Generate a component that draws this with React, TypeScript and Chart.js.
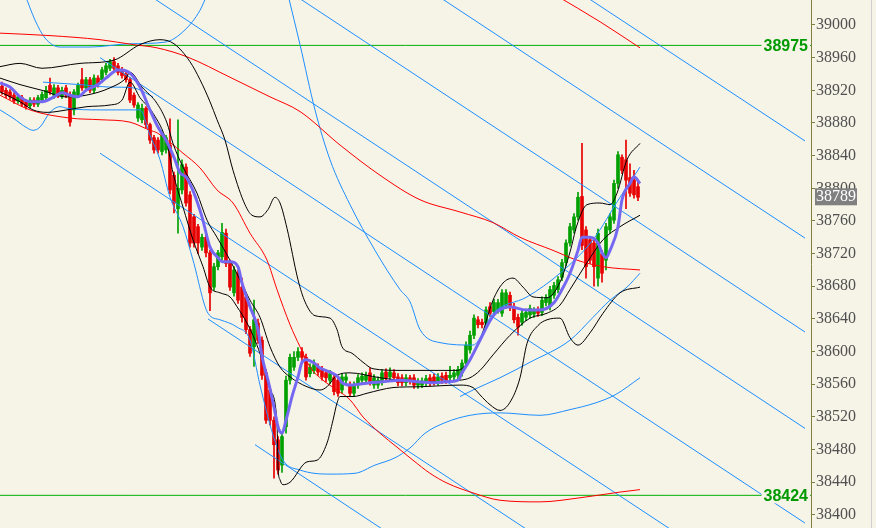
import { useEffect, useRef } from "react";
import { Chart, registerables } from "chart.js";
Chart.register(...registerables);

// ---- candles (bar index 0..159) ----
const OPEN = [38925,38920,38918,38914,38907,38911,38906,38901,38908,38903,38908,38911,38926,38914,38923,38913,38923,38914,38896,38914,38933,38923,38933,38920,38935,38933,38942,38947,38955,38950,38945,38940,38933,38914,38886,38884,38898,38878,38862,38859,38845,38847,38853,38816,38775,38798,38826,38792,38765,38753,38728,38740,38721,38679,38704,38716,38745,38708,38672,38696,38679,38667,38627,38606,38635,38614,38574,38553,38516,38492,38461,38508,38565,38581,38593,38600,38593,38573,38577,38581,38578,38574,38565,38568,38565,38553,38565,38559,38549,38559,38565,38565,38574,38559,38559,38563,38575,38569,38574,38569,38568,38562,38568,38568,38559,38559,38562,38568,38569,38563,38570,38571,38568,38569,38571,38574,38586,38602,38620,38639,38636,38635,38655,38649,38651,38647,38657,38669,38655,38642,38636,38642,38645,38646,38651,38648,38660,38655,38669,38676,38691,38709,38733,38749,38765,38790,38749,38737,38733,38690,38720,38712,38749,38761,38806,38838,38835,38813,38810,38802];
const HIGH = [38930,38923,38921,38917,38915,38914,38909,38911,38911,38914,38918,38925,38935,38927,38926,38924,38926,38918,38921,38929,38947,38936,38936,38939,38938,38948,38953,38958,38960,38953,38948,38943,38936,38917,38905,38903,38900,38880,38865,38862,38870,38865,38885,38820,38884,38835,38830,38796,38768,38756,38744,38744,38724,38708,38724,38757,38750,38712,38704,38700,38690,38672,38631,38663,38640,38618,38578,38556,38520,38496,38500,38570,38597,38600,38605,38605,38597,38585,38590,38585,38582,38577,38577,38572,38569,38573,38573,38563,38563,38572,38574,38575,38580,38572,38569,38578,38579,38580,38578,38573,38572,38572,38571,38572,38567,38568,38571,38572,38573,38573,38574,38575,38582,38578,38582,38590,38612,38625,38645,38643,38640,38655,38660,38664,38664,38676,38676,38673,38659,38646,38651,38652,38657,38654,38655,38667,38670,38680,38685,38692,38713,38737,38757,38769,38795,38855,38753,38741,38737,38750,38724,38757,38769,38810,38845,38841,38859,38830,38822,38810];
const LOW = [38915,38911,38909,38904,38904,38900,38897,38898,38900,38900,38905,38908,38915,38910,38911,38910,38911,38876,38890,38911,38920,38920,38917,38917,38924,38930,38939,38944,38944,38939,38935,38930,38905,38899,38882,38880,38874,38855,38843,38843,38841,38843,38793,38770,38745,38793,38778,38728,38728,38720,38724,38716,38650,38675,38700,38712,38704,38675,38668,38659,38636,38622,38594,38582,38610,38566,38512,38510,38445,38450,38452,38500,38560,38577,38589,38588,38565,38569,38573,38571,38565,38563,38561,38547,38545,38549,38561,38545,38545,38555,38561,38562,38559,38555,38555,38559,38564,38565,38564,38558,38558,38558,38560,38555,38555,38556,38558,38558,38559,38559,38561,38561,38564,38565,38567,38570,38582,38598,38616,38629,38629,38631,38643,38645,38647,38643,38653,38650,38635,38620,38632,38638,38641,38642,38643,38644,38656,38651,38665,38672,38687,38705,38729,38745,38761,38725,38690,38708,38680,38680,38685,38700,38745,38757,38800,38818,38775,38790,38788,38785];
const CLOSE = [38918,38914,38912,38907,38912,38903,38900,38908,38903,38911,38915,38920,38918,38923,38914,38920,38914,38881,38918,38926,38923,38933,38920,38935,38927,38945,38950,38955,38947,38942,38938,38933,38908,38902,38902,38898,38878,38859,38847,38847,38865,38862,38798,38782,38800,38829,38782,38733,38733,38733,38740,38721,38672,38704,38721,38746,38708,38679,38700,38663,38642,38627,38598,38639,38614,38571,38516,38516,38486,38455,38496,38565,38593,38593,38600,38593,38569,38581,38584,38575,38569,38568,38573,38551,38549,38569,38569,38549,38559,38568,38570,38571,38563,38568,38565,38574,38568,38575,38568,38562,38562,38568,38564,38559,38563,38564,38567,38562,38563,38569,38565,38565,38571,38574,38578,38586,38608,38620,38641,38633,38633,38651,38647,38660,38660,38672,38672,38655,38639,38630,38647,38648,38653,38650,38647,38663,38666,38676,38681,38688,38709,38733,38753,38765,38789,38730,38704,38712,38704,38745,38696,38753,38765,38806,38841,38822,38810,38794,38792,38789];

// ---- axis / levels ----
const Y_TICKS = [38400,38440,38480,38520,38560,38600,38640,38680,38720,38760,38800,38840,38880,38920,38960,39000];
const LEVEL_HIGH = 38975;
const LEVEL_LOW = 38424;
const LAST_PRICE = 38789;

// ---- indicator lines: [bar index, price] ----
const MA_FAST = [[-0.5,38929],[2,38924],[4.5,38912],[7,38906],[10,38906],[13,38912],[15,38917],[17,38914],[19,38912],[21,38920],[24,38927],[26,38935],[29,38945],[30,38945],[32,38941],[34.5,38924],[37,38896],[39,38875],[41,38859],[43,38838],[44.5,38819],[46,38814],[48,38794],[50,38765],[52,38728],[54,38715],[55,38710],[57,38710],[59,38704],[60,38684],[62,38655],[64,38627],[65,38594],[66.5,38565],[68,38532],[69,38508],[70,38500],[71,38516],[72.5,38545],[74,38569],[75,38587],[76,38590],[78,38586],[79.5,38580],[82,38575],[84,38569],[85,38562],[87,38559],[92,38562],[95,38563],[99.5,38565],[104,38563],[108,38562],[111,38563],[114,38565],[115,38574],[117,38590],[119.5,38614],[123,38645],[127,38655],[131,38651],[134.5,38651],[138,38660],[140,38676],[142,38696],[144,38724],[145,38740],[147,38740],[149,38733],[150,38721],[151,38715],[152,38724],[154,38753],[155,38786],[157,38806],[158,38814],[159.5,38806]];
const BB_UPPER = [[-0.5,38949],[4.5,38953],[10,38947],[19.5,38953],[28,38957],[34.5,38976],[39.5,38982],[43,38977],[47,38955],[49.5,38933],[52,38906],[53.75,38884],[55.75,38859],[57.75,38822],[60.75,38780],[62.5,38767],[64.5,38765],[66.5,38774],[68.25,38789],[69.5,38782],[71.25,38751],[74,38688],[75.75,38661],[78.25,38644],[82,38641],[83.75,38627],[85,38606],[87.5,38598],[90.25,38587],[92.75,38579],[99.5,38577],[113.75,38577],[116.5,38587],[119.5,38614],[122.75,38663],[125.25,38684],[127.75,38690],[130.25,38679],[132.75,38667],[136.25,38666],[139.5,38685],[142,38722],[143.75,38755],[146.25,38780],[149.5,38782],[152,38780],[153.75,38794],[156.25,38835],[159.5,38855]];
const BB_MIDDLE = [[-0.5,38935],[4.5,38927],[10,38920],[16,38912],[21,38914],[27,38923],[31,38935],[32,38942],[35,38924],[38.75,38904],[41.25,38880],[42.75,38855],[45.25,38826],[48.75,38794],[51.25,38761],[53.75,38740],[57,38712],[59.5,38688],[62,38663],[64.5,38642],[67,38606],[69.5,38581],[72,38569],[76.25,38557],[79.5,38553],[81.25,38557],[83.75,38571],[87,38574],[94.5,38568],[104.5,38563],[114.5,38565],[117,38568],[119.5,38577],[122.75,38596],[127,38620],[132,38641],[136.25,38647],[139.5,38657],[142,38676],[146.25,38709],[150.25,38737],[154.5,38753],[159.5,38767]];
const BB_LOWER = [[-0.5,38918],[4.5,38906],[7.75,38896],[11.25,38893],[16.25,38896],[21.25,38900],[27,38902],[30,38908],[32,38930],[34.5,38911],[37.75,38892],[41.25,38855],[42.75,38819],[45.25,38777],[47.75,38737],[50.25,38704],[52,38679],[54.5,38672],[57,38667],[58.75,38655],[61.25,38635],[63.25,38614],[65,38590],[67,38553],[68.75,38513],[69,38459],[69.5,38443],[70.25,38437],[72,38440],[76.25,38465],[78.75,38467],[81.25,38488],[82.75,38516],[83.75,38537],[84.5,38545],[87.75,38545],[91.25,38549],[94.5,38553],[97.75,38556],[104.5,38557],[114.5,38559],[117.75,38556],[119.5,38547],[122,38535],[124.5,38528],[127,38538],[129.5,38568],[131.25,38610],[134,38632],[136.25,38639],[139.5,38641],[142,38617],[144,38608],[147,38623],[150.25,38647],[154.5,38672],[159.5,38679]];
const BLUE_UPPER_A = [[5.75,39037],[8.25,39006],[10.75,38984],[14.5,38973],[22,38973],[32,38977],[40.75,38979],[45.75,38994],[49.5,39018],[51.25,39037]];
const BLUE_UPPER_B = [[71.5,39037],[74.5,38976],[78.25,38896],[82,38835],[87,38780],[93.25,38724],[99.5,38676],[102,38661],[104.5,38627],[109.5,38611],[117.75,38608],[122.75,38647],[131.25,38667],[139.5,38696],[147.75,38737],[154.5,38789],[159.5,38826]];
const BLUE_LOWER = [[-0.5,38896],[2.75,38886],[6.25,38874],[7.75,38871],[9.5,38875],[12,38893],[14.5,38900],[16.25,38898],[24.5,38896],[34.5,38896],[37,38865],[39.5,38835],[42,38789],[45.25,38753],[47.75,38712],[51.5,38647],[54.5,38639],[58.75,38630],[62,38614],[64.5,38559],[67.75,38498],[70.25,38467],[74.5,38455],[82,38450],[88.25,38451],[93.25,38461],[98.25,38470],[102,38482],[105.75,38500],[110.75,38513],[117,38522],[124.5,38525],[134.5,38522],[142,38529],[148.25,38537],[153.25,38547],[159.5,38568]];
const BLUE_MID_LEFT = [[10.25,38930],[19.5,38927],[27,38924],[32.75,38923],[37.75,38912]];
const BLUE_INNER = [[114.5,38545],[117.75,38553],[124.5,38568],[132,38587],[142,38614],[147.75,38642],[152,38663],[156.25,38679],[159.5,38696]];
const MA_SLOW = [[-0.5,38990],[12,38987],[24.5,38982],[32.75,38976],[38.75,38972],[46.25,38961],[57,38936],[67,38912],[74.5,38894],[84.5,38853],[94.5,38816],[104.5,38786],[114.5,38771],[122.75,38758],[129.5,38740],[137.75,38724],[143.75,38712],[150.25,38704],[159.5,38700]];
const MA_MID = [[-0.5,38914],[7,38896],[17,38886],[24.5,38884],[32,38881],[37,38871],[38.75,38868],[45.25,38843],[49.5,38825],[53.75,38798],[57.75,38782],[62,38745],[66.25,38712],[68.75,38676],[72,38633],[74.5,38606],[77,38581],[80.25,38565],[83.75,38553],[87,38541],[90.25,38520],[94.5,38500],[98.75,38483],[102.75,38467],[107,38451],[111.25,38439],[117.75,38427],[124.5,38418],[134.5,38416],[144.5,38421],[154.5,38428],[159.5,38431]];
const MA_UPPER_RED = [[138.25,39037],[149.5,39004],[159.5,38972]];
// parallel channel: each line [startBar, startPrice, endBar, endPrice]
const CHANNEL = [
  [145.25,39037,200.75,38858],
  [108.5,39037,200.75,38739],
  [73,39037,200.75,38624],
  [36.6,39037,200.75,38506],
  [24.5,38960,200.75,38390],
  [24.5,38843,168.5,38378],
  [51.5,38640,132.5,38378],
  [63.25,38486,96.5,38378],
];

const BG = "rgb(246,243,231)";
const UP = "#00A000";
const DOWN = "#E60000";

export default function App() {
  const ref = useRef<HTMLCanvasElement | null>(null);
  useEffect(() => {
    document.body.style.margin = "0";
    document.body.style.background = BG;
    const canvas = ref.current!;
    const col = CLOSE.map((c, i) => (c >= OPEN[i] ? UP : DOWN));
    const wicks = HIGH.map((h, i) => ({ x: i, y: [LOW[i], h] }));
    const bodies = OPEN.map((o, i) => ({ x: i, y: [Math.min(o, CLOSE[i]), Math.max(o, CLOSE[i])] }));
    const pts = (a: number[][]) => a.map(([x, y]) => ({ x, y }));
    const line = (data: number[][], color: string, width: number, order: number, smooth = true) => ({
      type: "line" as const,
      data: pts(data),
      borderColor: color,
      borderWidth: width,
      pointRadius: 0,
      fill: false,
      cubicInterpolationMode: smooth ? ("monotone" as const) : ("default" as const),
      tension: 0,
      order,
    });
    const overlay = {
      id: "overlay",
      beforeDraw(chart: any) {
        const c = chart.ctx;
        c.save();
        c.fillStyle = BG;
        c.fillRect(0, 0, chart.width, chart.height);
        c.restore();
      },
      afterDraw(chart: any) {
        const c = chart.ctx;
        const y = chart.scales.y;
        const area = chart.chartArea;
        c.save();
        [LEVEL_HIGH, LEVEL_LOW].forEach((v) => {
          const py = y.getPixelForValue(v);
          c.font = 'bold 16px "Liberation Sans"';
          const t = String(v);
          const w = c.measureText(t).width;
          c.fillStyle = BG;
          c.fillRect(area.right - 3 - w - 2, py - 8, w + 4, 16);
          c.fillStyle = "#009A00";
          c.textAlign = "right";
          c.textBaseline = "middle";
          c.fillText(t, area.right - 3, py + 1);
        });
        const pp = y.getPixelForValue(LAST_PRICE);
        c.fillStyle = "#808080";
        c.fillRect(area.right + 4, pp - 9, 42, 17);
        c.fillStyle = "#ffffff";
        c.font = '16px "Liberation Serif"';
        c.textAlign = "left";
        c.textBaseline = "middle";
        c.fillText(String(LAST_PRICE), area.right + 5, pp);
        // window edge
        c.strokeStyle = "#CFCFCF";
        c.lineWidth = 1;
        c.beginPath();
        c.moveTo(chart.width - 4.5, 0);
        c.lineTo(chart.width - 4.5, chart.height);
        c.stroke();
        c.restore();
      },
    };
    const channelSets = CHANNEL.map(([x1, y1, x2, y2]) =>
      line([[x1, y1], [x2, y2]], "#1E8FFF", 1, 6, false)
    );
    const chart = new Chart(canvas, {
      type: "bar",
      data: {
        datasets: [
          { type: "bar", data: wicks as any, backgroundColor: col, barThickness: 1, grouped: false, order: 10 } as any,
          { type: "bar", data: bodies as any, backgroundColor: col, barThickness: 3, grouped: false, minBarLength: 1, order: 9 } as any,
          line([[-0.5, LEVEL_HIGH], [202.25, LEVEL_HIGH]], "#00B000", 1, 7, false),
          line([[-0.5, LEVEL_LOW], [202.25, LEVEL_LOW]], "#00B000", 1, 7, false),
          ...channelSets,
          line(BLUE_UPPER_A, "#1E8FFF", 1, 5),
          line(BLUE_UPPER_B, "#1E8FFF", 1, 5),
          line(BLUE_LOWER, "#1E8FFF", 1, 5),
          line(BLUE_MID_LEFT, "#1E8FFF", 1, 5),
          line(BLUE_INNER, "#1E8FFF", 1, 5),
          line(MA_SLOW, "#FF0000", 1, 4),
          line(MA_MID, "#FF0000", 1, 4),
          line(MA_UPPER_RED, "#FF0000", 1, 4),
          line(BB_UPPER, "#000000", 1, 3),
          line(BB_MIDDLE, "#000000", 1, 3),
          line(BB_LOWER, "#000000", 1, 3),
          line(MA_FAST, "#7468F2", 3, 1),
        ] as any,
      },
      options: {
        animation: false,
        responsive: false,
        devicePixelRatio: 1,
        layout: { padding: 0 },
        plugins: { legend: { display: false }, tooltip: { enabled: false } },
        scales: {
          x: { type: "linear", min: -0.5, max: 202.25, display: false, offset: false },
          y: {
            position: "right",
            min: 38384,
            max: 39030.6,
            afterBuildTicks: (axis: any) => {
              axis.ticks = Y_TICKS.map((v) => ({ value: v }));
            },
            afterFit: (axis: any) => {
              axis.width = 65;
              axis.paddingTop = 0;
              axis.paddingBottom = 0;
            },
            grid: { drawOnChartArea: false, drawTicks: true, tickLength: 4, tickColor: "#7F7F3F" },
            border: { display: true, color: "#7F7F3F", width: 1 },
            ticks: {
              color: "#505050",
              font: { family: "Liberation Serif", size: 16 },
              padding: 1,
              autoSkip: false,
              callback: (v: any) => String(v),
            },
          },
        },
      } as any,
      plugins: [overlay],
    });
    return () => chart.destroy();
  }, []);
  return (
    <div style={{ width: 876, height: 528 }}>
      <canvas ref={ref} width={876} height={528} style={{ display: "block" }} />
    </div>
  );
}
